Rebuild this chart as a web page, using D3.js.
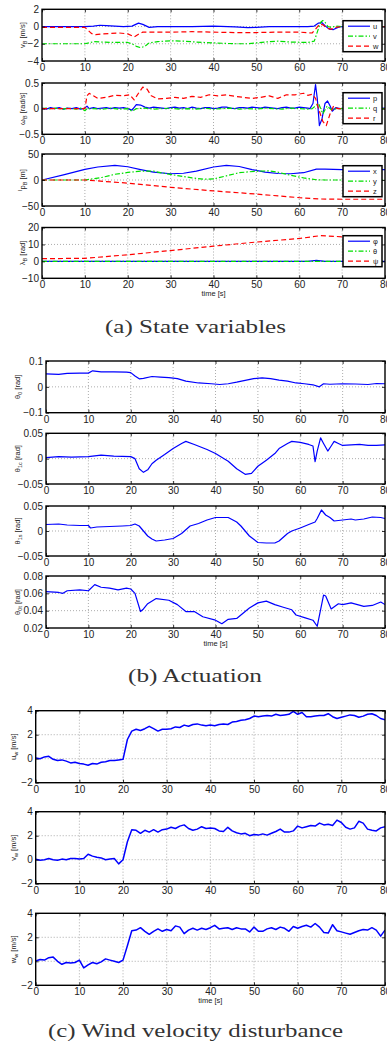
<!DOCTYPE html>
<html>
<head>
<meta charset="utf-8">
<script src="https://cdn.jsdelivr.net/npm/d3@7"></script>
<style>
  body { margin: 0; background: #fff; }
  svg text { font-family: "Liberation Sans", Arial, sans-serif; }
</style>
</head>
<body>
<svg id="chart" width="387" height="1045"></svg>
<script>
// ---- data (time in s) ----
const xTicks = [0, 10, 20, 30, 40, 50, 60, 70, 80];

// (a) state variables
const uB = [[0,0],[10,0],[12,0.05],[13.5,0.15],[15,0.1],[17,0.05],[19,0],[21,0.05],[22.5,0.4],[23.5,0.25],[25,-0.1],[27,0],[30,0],[35,0],[40,0.05],[45,-0.05],[48,-0.12],[50,-0.1],[53,0],[58,0],[62,0],[63.5,0.05],[64.5,0.4],[65.3,0.45],[66,0.1],[67,-0.3],[68,-0.35],[69,-0.1],[70,0],[80,0]];
const vB = [[0,-2],[10,-2],[11,-1.9],[12,-1.75],[14,-1.8],[17,-1.85],[20,-1.85],[21,-2],[22,-2.3],[23,-2.45],[24,-2.3],[25,-1.9],[27,-1.75],[30,-1.65],[33,-1.7],[36,-1.8],[40,-1.9],[45,-2],[48,-2],[52,-1.8],[55,-1.7],[58,-1.8],[62,-1.85],[63.5,-1.7],[64.3,-0.5],[65,0.5],[65.5,0.7],[66,0.5],[66.7,0],[67.5,-0.1],[68.5,0.05],[70,0],[80,0]];
const wB = [[0,-0.1],[10,-0.1],[10.5,-0.3],[11.5,-0.8],[12.5,-0.95],[14,-0.85],[16,-0.8],[18,-0.75],[20,-0.85],[21.5,-1.2],[22.5,-0.9],[23.5,-0.65],[25,-0.65],[30,-0.65],[35,-0.6],[40,-0.65],[45,-0.7],[50,-0.7],[55,-0.65],[60,-0.65],[63,-0.75],[63.8,-0.3],[64.8,0.3],[65.5,0.2],[66.5,-0.2],[67.5,-0.3],[68.5,-0.1],[70,0],[80,0]];

const pB = [[0,0.01],[1,-0.01],[2,0.02],[3,0],[4,0.02],[5,-0.01],[6,0.01],[7,0],[8,0.02],[9,-0.01],[10,0.01],[10.5,0.05],[11,0],[12,0.02],[13,0],[14,0.01],[15,0.02],[16,0],[17,0.02],[18,0.01],[19,0.02],[20,0],[21,-0.03],[22,0.08],[23,0.07],[24,0.03],[25,0.01],[26,0.03],[27,0.02],[28,0.01],[29,0],[30,0.02],[31,0.03],[32,0.01],[33,0.02],[34,0],[35,0.03],[36,0.01],[37,0],[38,0.02],[39,0.02],[40,0],[41,0.01],[42,0.03],[43,0.03],[44,0.01],[45,0],[46,0.02],[47,0.02],[48,0.01],[49,0.03],[50,0.02],[51,0.01],[52,0.03],[53,0.02],[54,0.01],[55,0],[56,0.02],[57,0.03],[58,0.01],[59,0.01],[60,0.03],[61,0.02],[62,0.01],[62.5,0],[63.2,0.1],[63.8,0.47],[64.2,0.2],[64.7,-0.33],[65.3,-0.2],[66,0.1],[66.6,0.15],[67.2,0.05],[67.7,-0.05],[68.5,0.02],[69.5,0],[72,0.01],[75,0],[80,0.01]];
const qB = [[0,0],[1,0.01],[2,-0.01],[3,0.01],[4,0],[5,-0.01],[6,0.01],[7,0],[8,-0.01],[9,0.01],[10,-0.04],[10.5,0],[12,0],[14,-0.01],[16,0.01],[18,-0.01],[20,0],[21,-0.05],[22,0],[24,0.01],[26,-0.01],[28,0],[30,0.01],[32,-0.01],[34,0],[36,-0.01],[38,0.01],[40,-0.01],[42,0],[44,0.01],[46,-0.01],[48,0],[50,-0.01],[52,0.01],[54,0],[56,-0.01],[58,0.01],[60,0],[62,-0.01],[63,0],[64.5,0.1],[65.5,-0.1],[66.5,0.05],[67.5,-0.02],[69,0],[80,0]];
const rB = [[0,0],[10,0],[10.5,0.25],[11,0.3],[12,0.25],[13,0.2],[15,0.22],[17,0.26],[19,0.25],[20.5,0.27],[21.5,0.17],[22.5,0.3],[23.5,0.42],[24.5,0.38],[25.5,0.25],[27,0.19],[29,0.2],[31,0.22],[33,0.2],[35,0.24],[37,0.22],[39,0.27],[41,0.25],[43,0.27],[45,0.24],[47,0.22],[49,0.2],[51,0.22],[53,0.25],[55,0.2],[57,0.27],[59,0.27],[61,0.3],[62,0.26],[63,0.28],[63.8,0.2],[64.5,0],[65.5,-0.25],[66.3,-0.33],[67.2,-0.1],[68,0.05],[69,0],[80,0]];

const xPos = [[0,0],[5,10],[10,20.5],[13,25],[17,28],[20,25.5],[23,20],[26,15],[30,12],[33,13],[36,17],[40,25],[43,28],[46,26],[49,20],[52,15],[55,12.5],[58,12],[61,14],[64,21],[66,21],[70,20],[80,20]];
const yPos = [[0,0],[10,0],[14,5],[17,11],[20,14.5],[23,17],[26,17],[29,12],[32,8],[35,4],[38,1.5],[40,2],[43,8],[46,14],[50,17],[53,17.5],[55,15],[58,9],[61,4],[64,0.5],[66,0],[80,0]];
const zPos = [[0,0],[10,0],[20,-6],[30,-14],[40,-21],[50,-27],[60,-34],[65,-36.5],[70,-37],[80,-37]];

const phi = [[0,0],[62,0],[64,0.6],[66,0],[80,0]];
const theta = [[0,0],[80,0]];
const psi = [[0,1.6],[10,1.8],[20,3.9],[30,6.4],[40,9],[50,11.4],[60,13.5],[65,15.2],[70,14.5],[75,14.5],[80,14.3]];

// (b) actuation
const th0 = [[0,0.05],[3,0.048],[5,0.052],[8,0.053],[10,0.053],[11,0.062],[13,0.058],[16,0.058],[19,0.057],[20,0.055],[21,0.042],[22,0.031],[23,0.033],[25,0.04],[27,0.038],[29,0.036],[31,0.032],[33,0.022],[36,0.015],[39,0.012],[41,0.009],[43,0.012],[45,0.018],[47,0.025],[49,0.032],[51,0.035],[53,0.032],[55,0.026],[57,0.022],[59,0.015],[61,0.012],[63,0.008],[64.5,0],[65.5,0.012],[67,0.01],[70,0.012],[73,0.011],[76,0.009],[78,0.013],[80,0.012]];
const th1c = [[0,0.002],[3,0.004],[6,0.003],[10,0.004],[13,0.007],[16,0.005],[20,0.004],[21,0],[22,-0.02],[23,-0.027],[24,-0.022],[25,-0.01],[26,-0.003],[28,0.008],[30,0.02],[32,0.03],[33,0.034],[35,0.028],[38,0.018],[40,0.01],[43,-0.005],[45,-0.02],[47,-0.031],[48.5,-0.029],[50,-0.015],[52,-0.003],[54,0.01],[55,0.02],[57,0.03],[58,0.034],[60,0.032],[62,0.028],[63,0.025],[63.5,-0.006],[64,0.015],[64.8,0.041],[65.5,0.03],[66.5,0.015],[67.3,0.025],[68,0.034],[69,0.03],[70,0.026],[72,0.027],[74,0.028],[76,0.026],[78,0.026],[80,0.027]];
const th1s = [[0,0.013],[3,0.014],[5,0.012],[8,0.011],[10,0.011],[10.5,0.006],[12,0.008],[15,0.009],[18,0.01],[20,0.011],[21,0.014],[22,0.01],[23,0],[24,-0.01],[25,-0.016],[26,-0.02],[28,-0.018],[30,-0.015],[32,-0.005],[34,0.01],[36,0.015],[38,0.022],[40,0.027],[43,0.027],[45,0.018],[46,0.01],[47,0],[48,-0.01],[50,-0.023],[52,-0.024],[54,-0.024],[55,-0.02],[57,-0.005],[58,0],[60,0.006],[62,0.013],[63.5,0.018],[64,0.025],[65,0.042],[66,0.032],[67,0.027],[68,0.02],[70,0.022],[72,0.024],[73,0.022],[75,0.024],[77,0.028],[79,0.027],[80,0.025]];
const th0t = [[0,0.062],[3,0.061],[4,0.06],[5,0.063],[8,0.064],[10,0.063],[11.5,0.07],[13,0.067],[15,0.066],[17,0.064],[19,0.066],[20,0.065],[21,0.06],[22.3,0.039],[23,0.042],[24,0.048],[26,0.054],[29,0.052],[31,0.047],[33,0.039],[35,0.039],[37,0.033],[40,0.029],[41.5,0.025],[43,0.03],[45,0.031],[48,0.043],[50,0.049],[52,0.051],[54,0.047],[56,0.044],[58,0.041],[59,0.035],[61,0.032],[63,0.029],[64,0.022],[65.5,0.058],[66,0.057],[67.3,0.042],[69,0.048],[70,0.047],[72,0.049],[75,0.045],[77,0.046],[79,0.05],[80,0.047]];

// (c) wind velocity disturbance, one value per second
const windT = [0,1,2,3,4,5,6,7,8,9,10,11,12,13,14,15,16,17,18,19,20,21,22,23,24,25,26,27,28,29,30,31,32,33,34,35,36,37,38,39,40,41,42,43,44,45,46,47,48,49,50,51,52,53,54,55,56,57,58,59,60,61,62,63,64,65,66,67,68,69,70,71,72,73,74,75,76,77,78,79,80];
const uW = [0.05,0,0.15,0.2,-0.05,-0.15,-0.1,-0.2,-0.35,-0.3,-0.4,-0.45,-0.55,-0.4,-0.45,-0.3,-0.25,-0.15,-0.15,-0.1,-0.05,1.6,2.3,2.45,2.35,2.5,2.7,2.5,2.3,2.45,2.45,2.5,2.65,2.6,2.8,2.7,2.85,2.9,2.8,2.75,2.8,2.75,2.85,2.9,2.85,3.05,3.1,3.2,3.25,3.35,3.55,3.5,3.55,3.6,3.55,3.7,3.6,3.65,3.7,3.95,3.7,3.85,3.5,3.5,3.55,3.6,3.6,3.75,3.5,3.35,3.45,3.55,3.65,3.6,3.45,3.55,3.7,3.75,3.6,3.35,3.25];
const vW = [0.03,-0.05,0,0.1,0,-0.05,0.05,0,0.1,0.1,0.05,0.1,0.45,0.3,0.2,0.15,0,0.05,0.1,-0.35,0,1.5,2.5,2.45,2.2,2.45,2.3,2.5,2.3,2.5,2.55,2.7,2.6,2.8,2.9,2.6,2.45,2.55,2.75,2.6,2.65,2.6,2.4,2.35,2.7,2.4,2.25,2.15,2.2,2,2.1,2.05,2.15,2.05,2.2,2.35,2.55,2.3,2.3,2.4,2.8,2.65,2.75,2.85,2.8,3.05,2.9,2.95,2.85,3.3,3.1,2.7,2.55,2.65,3.2,3.05,2.55,2.45,2.4,2.65,2.75];
const wW = [0.02,0.15,0.1,0.3,0.35,0,-0.25,-0.1,-0.15,-0.1,0.1,-0.55,-0.3,-0.1,-0.2,-0.05,0.2,0.1,0,-0.1,0.1,1.3,2.55,2.6,2.8,2.5,2.25,2.5,2.7,2.5,2.65,2.55,2.95,2.85,2.3,2.6,2.75,2.6,2.75,2.65,2.8,3,2.7,2.75,2.8,2.65,2.8,2.7,2.7,2.45,2.85,2.5,2.5,2.7,2.8,2.65,2.85,2.75,2.5,2.9,2.75,2.9,3,2.85,3.15,2.85,2.4,2.35,3.05,2.55,2.45,2.35,2.25,2.4,2.55,2.65,2.6,2.8,2.6,2.1,2.6];

// ---- drawing ----
const svg = d3.select("#chart");
const BLUE = "#0000ff", GREEN = "#00e000", RED = "#ff0000";
const styles = {
  solid:   { color: BLUE,  dash: null },
  dashdot: { color: GREEN, dash: "5,2,1.5,2" },
  dashed:  { color: RED,   dash: "5,3" }
};
const fmt = v => (v < 0 ? "\u2212" : "") + Math.abs(v);

function drawLabel(g, parts) {
  const t = g.append("text").attr("font-size", 7.5).attr("fill", "#222")
    .attr("text-anchor", "middle");
  parts.forEach(p => {
    const s = t.append("tspan").text(p.t);
    if (p.sub) s.attr("font-size", 5.5).attr("baseline-shift", "-25%");
    if (p.sup) s.attr("font-size", 5.5).attr("baseline-shift", "45%");
  });
  return t;
}

function drawPanel(p) {
  const x = d3.scaleLinear().domain([0, 80]).range([p.left, p.right]);
  const y = d3.scaleLinear().domain(p.dom).range([p.bottom, p.top]);
  const g = svg.append("g");

  // dotted grid
  g.append("g").selectAll("line").data(xTicks.slice(1, -1)).join("line")
    .attr("x1", d => x(d)).attr("x2", d => x(d))
    .attr("y1", p.top).attr("y2", p.bottom)
    .attr("stroke", "#888").attr("stroke-width", 0.7).attr("stroke-dasharray", "1,2");
  g.append("g").selectAll("line").data(p.ticks.filter(v => v > p.dom[0] && v < p.dom[1])).join("line")
    .attr("x1", p.left).attr("x2", p.right)
    .attr("y1", d => y(d)).attr("y2", d => y(d))
    .attr("stroke", "#888").attr("stroke-width", 0.7).attr("stroke-dasharray", "1,2");

  // series
  const line = d3.line().x(d => x(d[0])).y(d => y(d[1]));
  const clipId = "clip" + p.id;
  svg.append("clipPath").attr("id", clipId).append("rect")
    .attr("x", p.left).attr("y", p.top).attr("width", p.right - p.left).attr("height", p.bottom - p.top);
  p.series.forEach(s => {
    const st = styles[s.style];
    g.append("path").datum(s.data).attr("d", line)
      .attr("clip-path", `url(#${clipId})`)
      .attr("fill", "none").attr("stroke", st.color).attr("stroke-width", p.lw || 1.2)
      .attr("stroke-linejoin", "round")
      .attr("stroke-dasharray", st.dash);
  });

  // axes with inward ticks on all four sides
  const ax = g.append("g").attr("font-size", 7.5);
  ax.append("g").attr("transform", `translate(0,${p.bottom})`)
    .call(d3.axisBottom(x).tickValues(xTicks).tickSize(-3).tickPadding(3).tickFormat(d3.format("d")));
  ax.append("g").attr("transform", `translate(0,${p.top})`)
    .call(d3.axisTop(x).tickValues(xTicks).tickSize(-3).tickFormat(""));
  ax.append("g").attr("transform", `translate(${p.left},0)`)
    .call(d3.axisLeft(y).tickValues(p.ticks).tickSize(-3).tickPadding(3).tickFormat(fmt));
  ax.append("g").attr("transform", `translate(${p.right},0)`)
    .call(d3.axisRight(y).tickValues(p.ticks).tickSize(-3).tickFormat(""));
  ax.selectAll(".domain").remove();
  ax.selectAll(".tick line").attr("stroke", "#000").attr("stroke-width", 0.8);
  ax.selectAll(".tick text").attr("fill", "#222").attr("font-family", "Liberation Sans, Arial, sans-serif");

  g.append("rect").attr("x", p.left).attr("y", p.top)
    .attr("width", p.right - p.left).attr("height", p.bottom - p.top)
    .attr("fill", "none").attr("stroke", "#000").attr("stroke-width", 1.4);

  // y label
  const lab = drawLabel(g, p.label);
  lab.attr("transform", `translate(${p.labelX},${(p.top + p.bottom) / 2}) rotate(-90)`);

  // legend
  if (p.legend) {
    const lg = g.append("g");
    const bx = p.right - 42, bw = 39, bh = p.series.length * 10 + 1;
    lg.append("rect").attr("x", bx).attr("y", p.legendY).attr("width", bw).attr("height", bh)
      .attr("fill", "#fff").attr("stroke", "#000").attr("stroke-width", 1.5);
    p.series.forEach((s, i) => {
      const st = styles[s.style];
      const ly = p.legendY + 5.5 + i * 10;
      lg.append("line").attr("x1", bx + 5).attr("x2", bx + 27).attr("y1", ly).attr("y2", ly)
        .attr("stroke", st.color).attr("stroke-width", 1.2).attr("stroke-dasharray", st.dash);
      lg.append("text").attr("x", bx + 30).attr("y", ly + 2.7).attr("font-size", 7.5)
        .attr("fill", "#222").text(s.name);
    });
  }
  if (p.xlabel) {
    svg.append("text").attr("x", (p.left + p.right) / 2).attr("y", p.bottom + 18)
      .attr("text-anchor", "middle").attr("font-size", 7.5).attr("fill", "#222").text("time [s]");
  }
}

const panels = [
  { id: "a1", left: 42, right: 385, top: 9.3, bottom: 61, dom: [-4, 2], ticks: [-4, -2, 0, 2], labelX: 25,
    label: [{ t: "v" }, { t: "B", sub: true }, { t: " [m/s]" }], legend: true, legendY: 20.7,
    series: [{ name: "u", data: uB, style: "solid" }, { name: "v", data: vB, style: "dashdot" }, { name: "w", data: wB, style: "dashed" }] },
  { id: "a2", left: 42, right: 385, top: 83, bottom: 134.3, dom: [-0.5, 0.5], ticks: [-0.5, 0, 0.5], labelX: 25,
    label: [{ t: "\u03c9" }, { t: "B", sub: true }, { t: " [rad/s]" }], legend: true, legendY: 92.7,
    series: [{ name: "p", data: pB, style: "solid" }, { name: "q", data: qB, style: "dashdot" }, { name: "r", data: rB, style: "dashed" }] },
  { id: "a3", left: 42, right: 385, top: 154, bottom: 206, dom: [-50, 50], ticks: [-50, 0, 50], labelX: 25,
    label: [{ t: "I", sup: true }, { t: "p" }, { t: "B", sub: true }, { t: " [m]" }], legend: true, legendY: 165.7,
    series: [{ name: "x", data: xPos, style: "solid" }, { name: "y", data: yPos, style: "dashdot" }, { name: "z", data: zPos, style: "dashed" }] },
  { id: "a4", left: 42, right: 385, top: 227.5, bottom: 278.3, dom: [-10, 20], ticks: [-10, 0, 10, 20], labelX: 25,
    label: [{ t: "\u03bb" }, { t: "B", sub: true }, { t: " [rad]" }], legend: true, legendY: 235.7, xlabel: true,
    series: [{ name: "\u03c6", data: phi, style: "solid" }, { name: "\u03b8", data: theta, style: "dashdot" }, { name: "\u03c8", data: psi, style: "dashed" }] },

  { id: "b1", left: 46, right: 385, top: 361, bottom: 412.7, dom: [-0.1, 0.1], ticks: [-0.1, 0, 0.1], labelX: 20,
    label: [{ t: "\u03b8" }, { t: "0", sub: true }, { t: " [rad]" }], series: [{ data: th0, style: "solid" }] },
  { id: "b2", left: 46, right: 385, top: 433.3, bottom: 484, dom: [-0.05, 0.05], ticks: [-0.05, 0, 0.05], labelX: 20,
    label: [{ t: "\u03b8" }, { t: "1c", sub: true }, { t: " [rad]" }], series: [{ data: th1c, style: "solid" }] },
  { id: "b3", left: 46, right: 385, top: 506, bottom: 556, dom: [-0.05, 0.05], ticks: [-0.05, 0, 0.05], labelX: 20,
    label: [{ t: "\u03b8" }, { t: "1s", sub: true }, { t: " [rad]" }], series: [{ data: th1s, style: "solid" }] },
  { id: "b4", left: 46, right: 385, top: 576, bottom: 628, dom: [0.02, 0.08], ticks: [0.02, 0.04, 0.06, 0.08], labelX: 20, xlabel: true,
    label: [{ t: "\u03b8" }, { t: "0t", sub: true }, { t: " [rad]" }], series: [{ data: th0t, style: "solid" }] },

  { id: "c1", left: 35.7, right: 385, top: 710.7, bottom: 782.7, dom: [-2, 4], ticks: [-2, 0, 2, 4], labelX: 16, lw: 1.5,
    label: [{ t: "u" }, { t: "w", sub: true }, { t: " [m/s]" }], series: [{ data: windT.map((t, i) => [t, uW[i]]), style: "solid" }] },
  { id: "c2", left: 35.7, right: 385, top: 811.7, bottom: 883.7, dom: [-2, 4], ticks: [-2, 0, 2, 4], labelX: 16, lw: 1.5,
    label: [{ t: "v" }, { t: "w", sub: true }, { t: " [m/s]" }], series: [{ data: windT.map((t, i) => [t, vW[i]]), style: "solid" }] },
  { id: "c3", left: 35.7, right: 385, top: 913.3, bottom: 985.3, dom: [-2, 4], ticks: [-2, 0, 2, 4], labelX: 16, lw: 1.5, xlabel: true,
    label: [{ t: "w" }, { t: "w", sub: true }, { t: " [m/s]" }], series: [{ data: windT.map((t, i) => [t, wW[i]]), style: "solid" }] }
];

panels.forEach(drawPanel);

// sub-figure captions
const captions = [
  { text: "(a)  State variables", x: 195.5, y: 333, w: 181 },
  { text: "(b)  Actuation", x: 195, y: 682, w: 134 },
  { text: "(c)  Wind velocity disturbance", x: 195.5, y: 1037, w: 295 }
];
svg.selectAll("text.caption").data(captions).join("text")
  .attr("class", "caption")
  .attr("x", d => d.x - d.w / 2).attr("y", d => d.y)
  .attr("textLength", d => d.w).attr("lengthAdjust", "spacingAndGlyphs")
  .attr("font-size", 18.5).attr("fill", "#333")
  .style("font-family", "'Liberation Serif', 'DejaVu Serif', serif")
  .text(d => d.text);
</script>
</body>
</html>
